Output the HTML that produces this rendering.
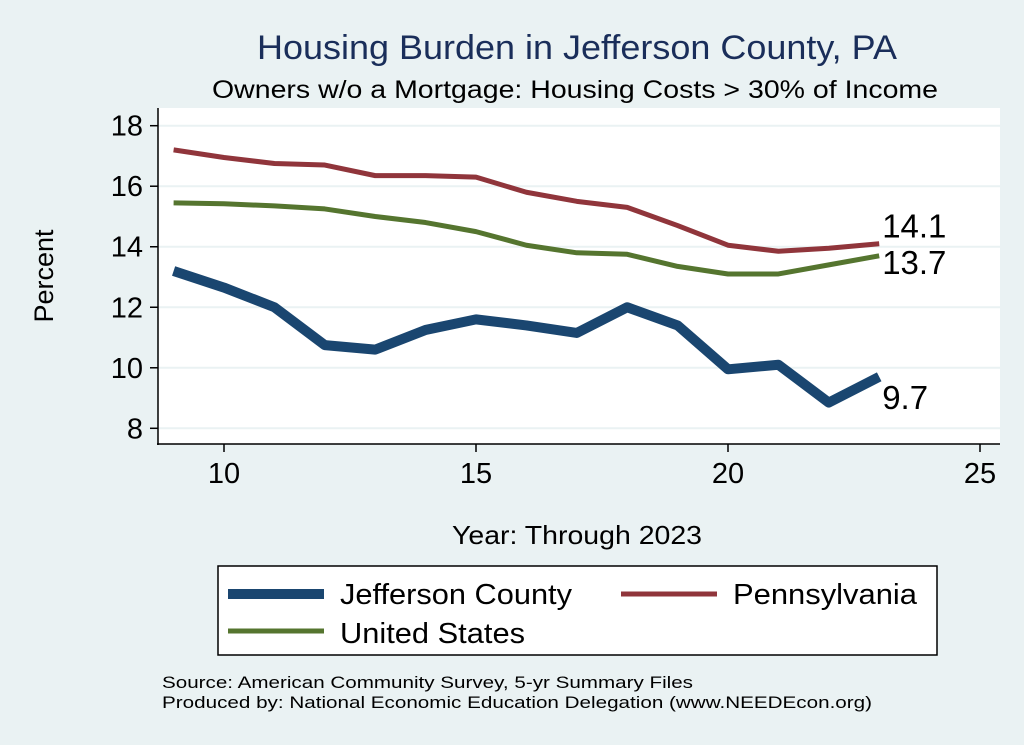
<!DOCTYPE html>
<html><head><meta charset="utf-8"><style>
body{margin:0;background:#eaf2f3;font-family:"Liberation Sans",Arial,sans-serif}
svg{display:block}
</style></head><body>
<svg width="1024" height="745">
<rect width="1024" height="745" fill="#eaf2f3"/>
<text x="257" y="59" font-size="34" fill="#1a2e5a" textLength="640" lengthAdjust="spacingAndGlyphs">Housing Burden in Jefferson County, PA</text>
<text x="212" y="98" font-size="25" fill="#000" textLength="726" lengthAdjust="spacingAndGlyphs">Owners w/o a Mortgage: Housing Costs &gt; 30% of Income</text>
<rect x="158" y="108" width="842" height="336" fill="#fff"/>
<g id="grid"></g><g id="axes"></g><g id="series"></g>
<text transform="translate(53,276) rotate(-90)" font-size="27" text-anchor="middle">Percent</text>
<text x="452" y="544" font-size="26" textLength="250" lengthAdjust="spacingAndGlyphs">Year: Through 2023</text>
<g>
<rect x="218" y="566" width="719" height="89" fill="#fff" stroke="#000" stroke-width="1.5"/>
<line x1="228" y1="594" x2="324" y2="594" stroke="#1a4670" stroke-width="10"/>
<text x="340" y="604" font-size="29" textLength="232" lengthAdjust="spacingAndGlyphs">Jefferson County</text>
<line x1="621" y1="594" x2="717" y2="594" stroke="#90353b" stroke-width="5"/>
<text x="733" y="604" font-size="29" textLength="184" lengthAdjust="spacingAndGlyphs">Pennsylvania</text>
<line x1="228" y1="631" x2="324" y2="631" stroke="#55752f" stroke-width="5"/>
<text x="340" y="643" font-size="29" textLength="185" lengthAdjust="spacingAndGlyphs">United States</text>
</g>
<text x="162" y="688" font-size="17" textLength="531" lengthAdjust="spacingAndGlyphs">Source: American Community Survey, 5-yr Summary Files</text>
<text x="162" y="708" font-size="17" textLength="710" lengthAdjust="spacingAndGlyphs">Produced by: National Economic Education Delegation (www.NEEDEcon.org)</text>
</svg>
<script>
const years=[9,10,11,12,13,14,15,16,17,18,19,20,21,22,23];
const jefferson=[13.2,12.65,12.0,10.75,10.6,11.25,11.6,11.4,11.15,12.0,11.4,9.95,10.1,8.85,9.7];
const pennsylvania=[17.2,16.95,16.75,16.7,16.35,16.35,16.3,15.8,15.5,15.3,14.7,14.05,13.85,13.95,14.1];
const unitedStates=[15.45,15.42,15.35,15.25,15.0,14.8,14.5,14.05,13.8,13.75,13.35,13.1,13.1,13.4,13.7];
const yTicks=[8,10,12,14,16,18];
const xTicks=[10,15,20,25];
const NS='http://www.w3.org/2000/svg';
const X=v=>224+(v-10)*50.4;
const Y=v=>428.3-(v-8)*30.26;
function mk(p,t,a){const e=document.createElementNS(NS,t);for(const k in a)e.setAttribute(k,a[k]);p.appendChild(e);return e;}
const g=document.getElementById('grid'),ax=document.getElementById('axes'),s=document.getElementById('series');
yTicks.forEach(v=>{
 const l=mk(g,'line',{x1:158,x2:1000,y1:Y(v),y2:Y(v),stroke:'#eaf2f3','stroke-width':2});
 
 
 mk(ax,'line',{x1:150,x2:158,y1:Y(v),y2:Y(v),stroke:'#000','stroke-width':1.5});
 const t=mk(ax,'text',{x:143,y:Y(v)+10,'font-size':29,'text-anchor':'end'});t.textContent=v;
 
 
});
xTicks.forEach(v=>{
 mk(ax,'line',{x1:X(v),x2:X(v),y1:444,y2:452,stroke:'#000','stroke-width':1.5});
 const t=mk(ax,'text',{x:X(v),y:483,'font-size':29,'text-anchor':'middle'});t.textContent=v;
 
 
});
mk(ax,'line',{x1:158,x2:158,y1:108,y2:445,stroke:'#000','stroke-width':1.5});
mk(ax,'line',{x1:157,x2:1000,y1:444,y2:444,stroke:'#000','stroke-width':1.5});
function line(d,c,w,name){
 const p=mk(s,'polyline',{points:d.map((v,i)=>X(years[i])+','+Y(v)).join(' '),fill:'none',stroke:c,'stroke-width':w,'stroke-linejoin':'round'});
 
 
}
line(unitedStates,'#55752f',5,'line-united-states');
line(pennsylvania,'#90353b',5,'line-pennsylvania');
line(jefferson,'#1a4670',10,'line-jefferson-county');
const n=years.length-1;
[[pennsylvania[n],-6,'label-pennsylvania'],[unitedStates[n],18,'label-united-states'],[jefferson[n],32,'label-jefferson']].forEach(([v,dy,nm])=>{
 const t=mk(s,'text',{x:X(years[n])+3,y:Y(v)+dy,'font-size':33});t.textContent=v.toFixed(1);
 
 
});
</script>
</body></html>
